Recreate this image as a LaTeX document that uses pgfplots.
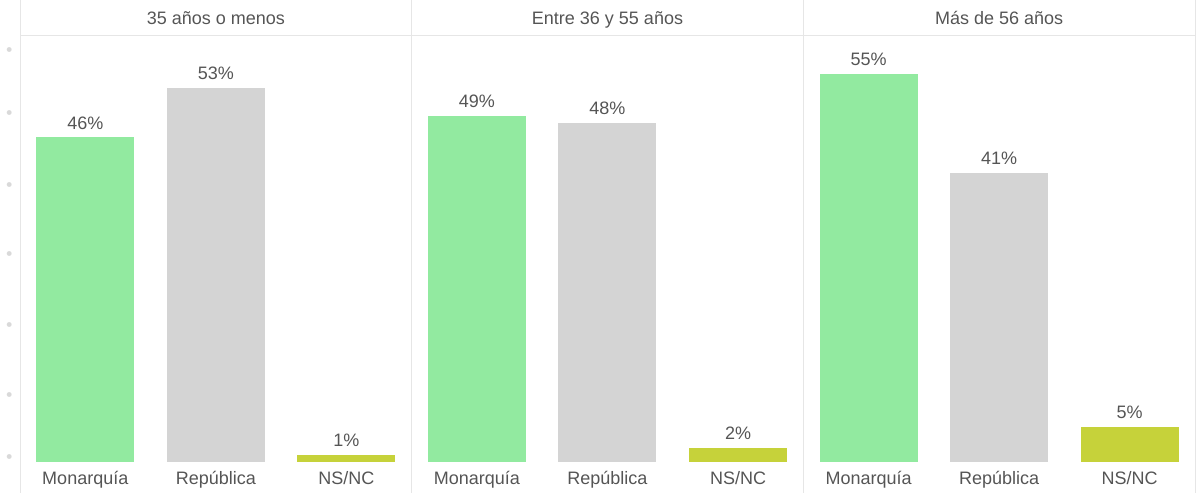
\documentclass[border=0pt]{standalone}
\usepackage{fontspec}
\setmainfont{Liberation Sans}
\usepackage{pgfplots}
\pgfplotsset{compat=1.18}
\definecolor{mon}{RGB}{146,234,160}
\definecolor{rep}{RGB}{212,212,212}
\definecolor{nsnc}{RGB}{198,210,58}
\definecolor{txt}{RGB}{85,85,85}
\definecolor{gridc}{RGB}{230,230,230}
\pgfplotsset{panel/.style={
  scale only axis, width=195.83pt, height=213.5pt,
  anchor=south west,
  xmin=-0.5, xmax=2.5, ymin=0, ymax=60.5,
  axis line style={draw=none},
  xtick={0,1,2}, xticklabels={Monarquía,República,NS/NC},
  major tick length=0pt, ytick=\empty, clip=false,
  font=\fontsize{9}{11}\selectfont,
  tick label style={text=txt, font=\fontsize{9}{11}\selectfont},
  xticklabel style={yshift=-1pt},
  every axis title shift=0pt,
  title style={at={(0.5,1)}, anchor=base, yshift=5.3pt, text=txt, font=\fontsize{9}{11}\selectfont},
  /pgf/number format/assume math mode=true,
  every axis plot/.append style={ybar, bar width=49pt, draw=none},
  nodes near coords={\pgfmathprintnumber{\pgfplotspointmeta}\%},
  every node near coord/.append style={text=txt, font=\fontsize{9}{11}\selectfont, yshift=0.5pt},
}}
\begin{document}
\begin{tikzpicture}
\path[use as bounding box] (-10pt,-15.5pt) rectangle (589.5pt,231pt);
\begin{axis}[panel, at={(0pt,0pt)}, title={35 años o menos},
  ytick={0.7,9.5,19.4,29.4,39.3,49.5,58.4},
  yticklabel={\textcolor{black!15}{\tiny$\bullet$}}]
\addplot[fill=mon] coordinates {(0,46)};
\addplot[fill=rep] coordinates {(1,53)};
\addplot[fill=nsnc] coordinates {(2,1)};
\draw[gridc] (axis cs:-0.5,-4.4) -- (axis cs:-0.5,65.5);
\draw[gridc] (axis cs:-0.5,60.5) -- (axis cs:2.5,60.5);
\end{axis}
\begin{axis}[panel, at={(195.83pt,0pt)}, title={Entre 36 y 55 años}]
\addplot[fill=mon] coordinates {(0,49)};
\addplot[fill=rep] coordinates {(1,48)};
\addplot[fill=nsnc] coordinates {(2,2)};
\draw[gridc] (axis cs:-0.5,-4.4) -- (axis cs:-0.5,65.5);
\draw[gridc] (axis cs:-0.5,60.5) -- (axis cs:2.5,60.5);
\end{axis}
\begin{axis}[panel, at={(391.67pt,0pt)}, title={Más de 56 años}]
\addplot[fill=mon] coordinates {(0,55)};
\addplot[fill=rep] coordinates {(1,41)};
\addplot[fill=nsnc] coordinates {(2,5)};
\draw[gridc] (axis cs:-0.5,-4.4) -- (axis cs:-0.5,65.5);
\draw[gridc] (axis cs:2.5,-4.4) -- (axis cs:2.5,65.5);
\draw[gridc] (axis cs:-0.5,60.5) -- (axis cs:2.5,60.5);
\end{axis}
\end{tikzpicture}
\end{document}
